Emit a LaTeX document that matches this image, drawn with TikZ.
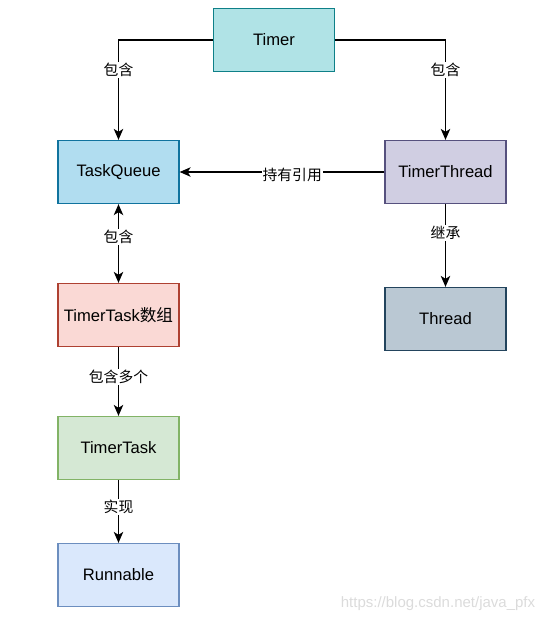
\documentclass[tikz,border=0pt]{standalone}
\usepackage{fontspec}
\setmainfont{Liberation Sans}
\newfontfamily\cjk{Noto Sans CJK SC}
\usetikzlibrary{arrows.meta}
\definecolor{timerF}{HTML}{B0E3E6}\definecolor{timerD}{HTML}{0E8088}
\definecolor{tqF}{HTML}{B1DDF0}\definecolor{tqD}{HTML}{10739E}
\definecolor{ttF}{HTML}{D0CEE2}\definecolor{ttD}{HTML}{56517E}
\definecolor{thF}{HTML}{BAC8D3}\definecolor{thD}{HTML}{23445D}
\definecolor{arrF}{HTML}{FAD9D5}\definecolor{arrD}{HTML}{AE4132}
\definecolor{taskF}{HTML}{D5E8D4}\definecolor{taskD}{HTML}{82B366}
\definecolor{runF}{HTML}{DAE8FC}\definecolor{runD}{HTML}{6C8EBF}
\begin{document}
\begin{tikzpicture}[x=1pt,y=-1pt,
  box/.style={draw, line width=1.3pt, minimum width=121pt, minimum height=63pt, inner sep=0pt, font=\fontsize{16.6}{19}\selectfont},
  conn/.style={line width=1.2pt, -{Stealth[length=11pt,width=9.5pt,inset=3pt]}},
  both/.style={line width=1.2pt, {Stealth[length=11pt,width=9.5pt,inset=3pt]}-{Stealth[length=11pt,width=9.5pt,inset=3pt]}},
  lbl/.style={fill=white, inner sep=1pt, font=\fontsize{14.8}{17}\selectfont\cjk}]
\useasboundingbox (0,0) rectangle (550,622);
\node[box, fill=timerF, draw=timerD] (timer) at (274,40) {Timer};
\node[box, fill=tqF, draw=tqD] (tq) at (118.5,172) {TaskQueue};
\node[box, fill=ttF, draw=ttD] (tt) at (445.5,172) {TimerThread};
\node[box, fill=thF, draw=thD] (th) at (445.5,319) {Thread};
\node[box, fill=arrF, draw=arrD] (arr) at (118.5,315) {TimerTask{\cjk 数组}};
\node[box, fill=taskF, draw=taskD] (task) at (118.5,448) {TimerTask};
\node[box, fill=runF, draw=runD] (run) at (118.5,575) {Runnable};
\draw[conn] (timer.west) -| (tq.north) node[lbl, pos=0.65] {包含};
\draw[conn] (timer.east) -| (tt.north) node[lbl, pos=0.65] {包含};
\draw[conn] (tt.west) -- (tq.east) node[lbl, pos=0.45, yshift=-3pt] {持有引用};
\draw[both] (tq.south) -- (arr.north) node[lbl, pos=0.42] {包含};
\draw[conn] (tt.south) -- (th.north) node[lbl, pos=0.35] {继承};
\draw[conn] (arr.south) -- (task.north) node[lbl, pos=0.43] {包含多个};
\draw[conn] (task.south) -- (run.north) node[lbl, pos=0.43] {实现};
\node[text=black!14, font=\fontsize{15}{18}\selectfont] (wm) at (438,604) {https://blog.csdn.net/java\_pfx};
\end{tikzpicture}
\end{document}
